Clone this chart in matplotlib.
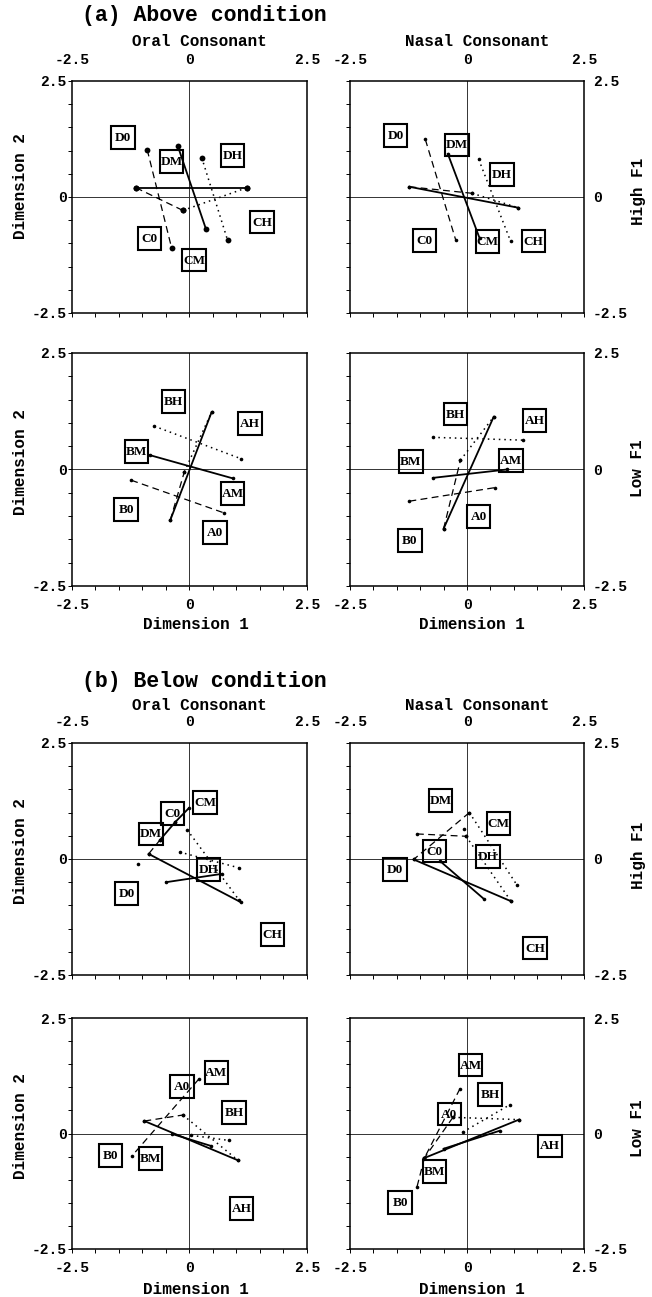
import matplotlib
matplotlib.use("Agg")
import matplotlib.pyplot as plt
from matplotlib.patches import Rectangle
from matplotlib.ticker import FixedLocator, FixedFormatter

# ---------------- data ----------------
HIGH_NAMES = ["D0", "DM", "DH", "C0", "CM", "CH"]
LOW_NAMES = ["B0", "BM", "BH", "A0", "AM", "AH"]

# label box centres (Dimension 1, Dimension 2), order as *_NAMES
A_ORAL_HI_LX = [-1.42, -0.38, 0.92, -0.85, 0.10, 1.54]
A_ORAL_HI_LY = [1.28, 0.77, 0.90, -0.89, -1.36, -0.54]
A_NASAL_HI_LX = [-1.53, -0.21, 0.75, -0.91, 0.44, 1.42]
A_NASAL_HI_LY = [1.33, 1.12, 0.49, -0.93, -0.96, -0.95]
A_ORAL_LO_LX = [-1.35, -1.13, -0.34, 0.54, 0.92, 1.29]
A_ORAL_LO_LY = [-0.85, 0.39, 1.46, -1.35, -0.51, 0.98]
A_NASAL_LO_LX = [-1.22, -1.20, -0.25, 0.25, 0.94, 1.44]
A_NASAL_LO_LY = [-1.53, 0.18, 1.19, -1.00, 0.19, 1.05]
B_ORAL_HI_LX = [-1.34, -0.82, 0.40, -0.36, 0.33, 1.77]
B_ORAL_HI_LY = [-0.75, 0.54, -0.23, 0.98, 1.22, -1.62]
B_NASAL_HI_LX = [-1.54, -0.57, 0.45, -0.70, 0.67, 1.45]
B_NASAL_HI_LY = [-0.22, 1.26, 0.06, 0.17, 0.77, -1.92]
B_ORAL_LO_LX = [-1.68, -0.83, 0.95, -0.16, 0.57, 1.11]
B_ORAL_LO_LY = [-0.48, -0.54, 0.45, 1.02, 1.32, -1.62]
B_NASAL_LO_LX = [-1.43, -0.70, 0.49, -0.38, 0.08, 1.77]
B_NASAL_LO_LY = [-1.50, -0.82, 0.85, 0.42, 1.48, -0.27]

# connecting segments: (group, x0, y0, x1, y1); group 0 / M / H
A_ORAL_HI_SEG = [
    ("0", -0.90, 1.02, -0.38, -1.10), ("M", -0.25, 1.10, 0.35, -0.69),
    ("H", 0.26, 0.85, 0.81, -0.93), ("M", -1.14, 0.20, 1.22, 0.20),
    ("0", -1.14, 0.20, -0.14, -0.29), ("H", -0.14, -0.29, 1.22, 0.20),
]
A_NASAL_HI_SEG = [
    ("0", -0.89, 1.24, -0.24, -0.93), ("M", -0.41, 0.93, 0.27, -0.89),
    ("H", 0.25, 0.81, 0.93, -0.95), ("M", -1.23, 0.22, 1.09, -0.23),
    ("0", -1.23, 0.22, 0.11, 0.08), ("H", 0.11, 0.08, 1.09, -0.23),
]
A_ORAL_LO_SEG = [
    ("M", -0.41, -1.09, 0.47, 1.23), ("0", -0.41, -1.09, -0.11, -0.05),
    ("H", -0.11, -0.05, 0.47, 1.23), ("M", -0.85, 0.31, 0.92, -0.19),
    ("H", -0.75, 0.93, 1.10, 0.23), ("0", -1.24, -0.23, 0.73, -0.93),
]
A_NASAL_LO_SEG = [
    ("M", -0.50, -1.27, 0.57, 1.13), ("0", -0.50, -1.27, -0.14, 0.20),
    ("H", -0.14, 0.20, 0.57, 1.13), ("M", -0.73, -0.18, 0.85, 0.00),
    ("H", -0.73, 0.69, 1.19, 0.63), ("0", -1.23, -0.68, 0.59, -0.39),
]
B_ORAL_HI_SEG = [
    ("M", -0.87, 0.11, 1.09, -0.93), ("M", -0.50, -0.50, 0.69, -0.32),
    ("H", -0.21, 0.15, 1.05, -0.19), ("H", -0.05, 0.63, 1.05, -0.88),
    ("M", -0.30, 0.80, -0.62, 0.42), ("0", -0.62, 0.42, -0.87, 0.11),
    ("M", -0.01, 1.10, -0.30, 0.80),
]
B_NASAL_HI_SEG = [
    ("0", -1.07, 0.54, -0.02, 0.49), ("0", 0.05, 1.00, -1.14, -0.01),
    ("H", 0.05, 1.00, 1.06, -0.55), ("H", -0.02, 0.49, 0.94, -0.91),
    ("M", -1.14, -0.01, 0.94, -0.91), ("M", -0.57, -0.05, 0.36, -0.86),
]
B_ORAL_LO_SEG = [
    ("0", 0.20, 1.18, -1.22, -0.48), ("0", -0.96, 0.27, -0.14, 0.40),
    ("H", -0.14, 0.40, 1.03, -0.58), ("H", 0.04, -0.04, 0.84, -0.15),
    ("M", -0.96, 0.27, 1.03, -0.58), ("M", -0.37, -0.01, 0.46, -0.27),
]
B_NASAL_LO_SEG = [
    ("0", -0.15, 0.97, -0.91, -0.53), ("0", -0.91, -0.53, -1.07, -1.16),
    ("0", -0.30, 0.35, -0.91, -0.53),
    ("H", -0.09, 0.03, 0.91, 0.62), ("H", -0.30, 0.35, 1.11, 0.30),
    ("M", -0.91, -0.53, 1.11, 0.30), ("M", -0.50, -0.33, 0.70, 0.06),
]
# stray dots not at a segment end
B_ORAL_HI_DOTS = [(-0.60, 0.78), (-1.10, -0.11)]
B_NASAL_HI_DOTS = [(-0.06, 0.65)]

TICKS = [-2.5, -2.0, -1.5, -1.0, -0.5, 0.0, 0.5, 1.0, 1.5, 2.0, 2.5]
TICK_TEXT = ["-2.5", "", "", "", "", "0", "", "", "", "", "2.5"]

# ---------------- layout (pixels of the 652x1297 figure) ----------------
W, H = 652, 1297
COLS = [(72, 307), (350, 584)]
ROWS = [(81, 313), (353, 586), (743, 975), (1018, 1249)]

MONO = "Liberation Mono"
SERIF = "Liberation Serif"

STYLE = {
    "0": dict(linestyle=(0, (5.5, 3.5)), linewidth=0.9),
    "M": dict(linestyle="-", linewidth=1.3),
    "H": dict(linestyle=(0, (1, 2.6)), linewidth=1.1),
}


def fx(px):
    return px / W


def fy(py):
    return 1 - py / H


def draw_panel(ax, names, lx, ly, segs, extra, dot_ms, row_top, col_left):
    ax.set_xlim(-2.5, 2.5)
    ax.set_ylim(-2.5, 2.5)
    ax.axhline(0, color="#333333", lw=0.7, zorder=1)
    ax.axvline(0, color="#333333", lw=0.7, zorder=1)

    dots = []
    for g, x0, y0, x1, y1 in segs:
        ax.plot([x0, x1], [y0, y1], color="black", zorder=3, **STYLE[g])
        dots += [(x0, y0), (x1, y1)]
    dots += list(extra)
    ax.plot([d[0] for d in dots], [d[1] for d in dots], "o", color="black",
            ms=dot_ms, mew=0, zorder=4)

    for n, x, y in zip(names, lx, ly):
        ax.add_patch(Rectangle((x - 0.25, y - 0.245), 0.5, 0.49, fill=False,
                               lw=1.5, ec="black", zorder=5))
        ax.text(x, y - 0.01, n, ha="center", va="center", fontsize=9.5,
                fontweight="bold", family=SERIF, zorder=6)

    ax.xaxis.set_major_locator(FixedLocator(TICKS))
    ax.yaxis.set_major_locator(FixedLocator(TICKS))
    ax.xaxis.set_major_formatter(FixedFormatter(TICK_TEXT))
    ax.yaxis.set_major_formatter(FixedFormatter(TICK_TEXT))
    ax.tick_params(direction="out", length=3, width=0.7,
                   bottom=True, left=True, top=False, right=False,
                   labelsize=10.5)
    ax.tick_params(axis="x", labeltop=row_top, labelbottom=not row_top,
                   pad=7 if row_top else 5.5)
    ax.tick_params(axis="y", labelleft=col_left, labelright=not col_left,
                   pad=0.8 if col_left else 3.5)
    for lab in ax.get_xticklabels() + ax.get_yticklabels():
        lab.set_family(MONO)
        lab.set_fontweight("bold")
    for sp in ax.spines.values():
        sp.set_linewidth(1.1)


fig = plt.figure(figsize=(W / 100, H / 100), dpi=100)

panels = [
    (0, 0, HIGH_NAMES, A_ORAL_HI_LX, A_ORAL_HI_LY, A_ORAL_HI_SEG, [], 4.2),
    (0, 1, HIGH_NAMES, A_NASAL_HI_LX, A_NASAL_HI_LY, A_NASAL_HI_SEG, [], 2.6),
    (1, 0, LOW_NAMES, A_ORAL_LO_LX, A_ORAL_LO_LY, A_ORAL_LO_SEG, [], 2.6),
    (1, 1, LOW_NAMES, A_NASAL_LO_LX, A_NASAL_LO_LY, A_NASAL_LO_SEG, [], 2.6),
    (2, 0, HIGH_NAMES, B_ORAL_HI_LX, B_ORAL_HI_LY, B_ORAL_HI_SEG, B_ORAL_HI_DOTS, 2.6),
    (2, 1, HIGH_NAMES, B_NASAL_HI_LX, B_NASAL_HI_LY, B_NASAL_HI_SEG, B_NASAL_HI_DOTS, 2.6),
    (3, 0, LOW_NAMES, B_ORAL_LO_LX, B_ORAL_LO_LY, B_ORAL_LO_SEG, [], 2.6),
    (3, 1, LOW_NAMES, B_NASAL_LO_LX, B_NASAL_LO_LY, B_NASAL_LO_SEG, [], 2.6),
]
for r, c, names, lx, ly, segs, extra, ms in panels:
    (x0, x1), (t, b) = COLS[c], ROWS[r]
    ax = fig.add_axes([fx(x0), fy(b), (x1 - x0) / W, (b - t) / H])
    draw_panel(ax, names, lx, ly, segs, extra, ms, r in (0, 2), c == 0)

txt = dict(family=MONO, fontweight="bold")
fig.text(fx(82), fy(15), "(a) Above condition", fontsize=15.5, ha="left", va="center", **txt)
fig.text(fx(82), fy(682), "(b) Below condition", fontsize=15.5, ha="left", va="center", **txt)
for yy in (42, 706):
    fig.text(fx(199), fy(yy), "Oral Consonant", fontsize=11.5, ha="center", va="center", **txt)
    fig.text(fx(477), fy(yy), "Nasal Consonant", fontsize=11.5, ha="center", va="center", **txt)
for yy in (186, 462, 851, 1126):
    fig.text(fx(21), fy(yy), "Dimension 2", fontsize=11.5, rotation=90,
             ha="center", va="center", **txt)
for yy, s in ((191, "High F1"), (468, "Low F1"), (855, "High F1"), (1128, "Low F1")):
    fig.text(fx(638), fy(yy), s, fontsize=11.5, rotation=90,
             ha="center", va="center", **txt)
for yy in (625, 1290):
    fig.text(fx(196), fy(yy), "Dimension 1", fontsize=11.5, ha="center", va="center", **txt)
    fig.text(fx(472), fy(yy), "Dimension 1", fontsize=11.5, ha="center", va="center", **txt)

fig.savefig("out.png", dpi=100)
